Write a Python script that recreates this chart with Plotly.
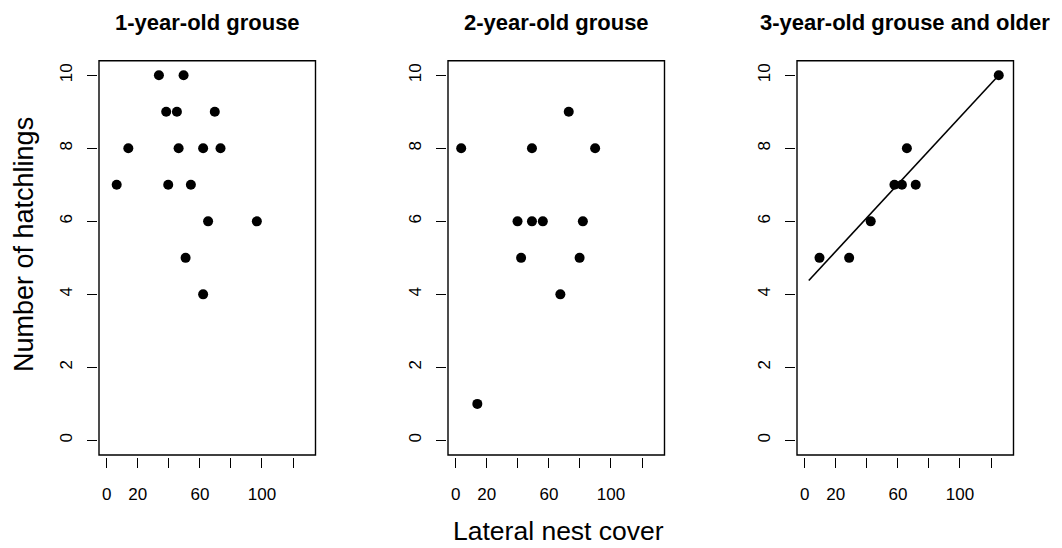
import plotly.graph_objects as go

# Lateral nest cover (%) and number of hatchlings, by hen age class
cover_1yr = [33.6, 49.5, 38.3, 45.2, 69.6, 13.9, 46.3, 62.1, 73.3, 6.4, 39.6, 54.2, 65.3, 96.7, 50.8, 62.1]
hatch_1yr = [10, 10, 9, 9, 9, 8, 8, 8, 8, 7, 7, 7, 6, 6, 5, 4]

cover_2yr = [72.8, 3.5, 49.1, 89.8, 39.8, 49.1, 56.1, 81.9, 42.1, 79.8, 67.4, 13.9]
hatch_2yr = [9, 8, 8, 8, 6, 6, 6, 6, 5, 5, 4, 1]

cover_3yr = [9.5, 28.6, 42.5, 57.8, 62.6, 71.5, 65.8, 125.0]
hatch_3yr = [5, 5, 6, 7, 7, 7, 8, 10]

# Fitted trend for the oldest group (end points)
fit_cover = [2.6, 125.0]
fit_hatch = [4.38, 10.0]

panel_titles = ["1-year-old grouse", "2-year-old grouse", "3-year-old grouse and older"]
x_tickvals = [0, 20, 40, 60, 80, 100, 120]
x_ticktext = ["0", "20", "", "60", "", "100", ""]
y_tickvals = [0, 2, 4, 6, 8, 10]
y_ticktext = ["0", "2", "4", "6", "8", "10"]

W, H = 1062, 548
FONT = "Liberation Sans, Arial, Helvetica, sans-serif"

panel_left = [99, 448, 797]
panel_width = 216.5
box_top, box_bottom = 60.7, 455.0

fig = go.Figure()

series = [(cover_1yr, hatch_1yr), (cover_2yr, hatch_2yr), (cover_3yr, hatch_3yr)]
for i, (xs, ys) in enumerate(series):
    n = "" if i == 0 else str(i + 1)
    fig.add_trace(go.Scatter(
        x=xs, y=ys, mode="markers",
        marker=dict(color="black", size=10, line=dict(width=0)),
        xaxis="x" + n, yaxis="y" + n, showlegend=False, hoverinfo="x+y",
    ))

fig.add_trace(go.Scatter(
    x=fit_cover, y=fit_hatch, mode="lines",
    line=dict(color="black", width=1.6),
    xaxis="x3", yaxis="y3", showlegend=False, hoverinfo="skip",
))

layout = dict(
    width=W, height=H,
    margin=dict(l=0, r=0, t=0, b=0),
    paper_bgcolor="white", plot_bgcolor="white",
    font=dict(family=FONT, color="black"),
    shapes=[], annotations=[],
)

for i in range(3):
    n = "" if i == 0 else str(i + 1)
    x0 = panel_left[i] / W
    x1 = (panel_left[i] + panel_width) / W
    y0 = (H - box_bottom) / H
    y1 = (H - box_top) / H
    layout["xaxis" + n] = dict(
        domain=[x0, x1], range=[-5, 134.5], anchor="free",
        position=(H - box_bottom - 2) / H,
        showgrid=False, zeroline=False, showline=False,
        ticks="outside", ticklen=10, tickwidth=1.2, tickcolor="black",
        tickvals=x_tickvals, ticktext=x_ticktext,
        tickfont=dict(size=17, family=FONT, color="black"),
        ticklabelstandoff=12,
    )
    layout["yaxis" + n] = dict(
        domain=[y0, y1], range=[-0.4, 10.4], anchor="free",
        position=(panel_left[i] - 2) / W,
        showgrid=False, zeroline=False, showline=False,
        ticks="outside", ticklen=10, tickwidth=1.2, tickcolor="black",
        tickvals=y_tickvals, ticktext=y_ticktext, tickangle=-90,
        tickfont=dict(size=17, family=FONT, color="black"),
        ticklabelstandoff=8,
    )
    layout["shapes"].append(dict(
        type="rect", xref=("x" + n + " domain"), yref=("y" + n + " domain"),
        x0=0, x1=1, y0=0, y1=1, line=dict(color="black", width=1.4),
    ))
    layout["annotations"].append(dict(
        text="<b>" + panel_titles[i] + "</b>",
        x=(panel_left[i] + panel_width / 2) / W, y=(H - 22) / H,
        xref="paper", yref="paper", xanchor="center", yanchor="middle",
        showarrow=False, font=dict(size=22, family=FONT, color="black"),
    ))

layout["annotations"].append(dict(
    text="Lateral nest cover", x=558 / W, y=(H - 531) / H,
    xref="paper", yref="paper", xanchor="center", yanchor="middle",
    showarrow=False, font=dict(size=26.5, family=FONT, color="black"),
))
layout["annotations"].append(dict(
    text="Number of hatchlings", x=24 / W, y=(H - 245) / H, textangle=-90,
    xref="paper", yref="paper", xanchor="center", yanchor="middle",
    showarrow=False, font=dict(size=27, family=FONT, color="black"),
))

fig.update_layout(**layout)
fig.write_html("out.html")
